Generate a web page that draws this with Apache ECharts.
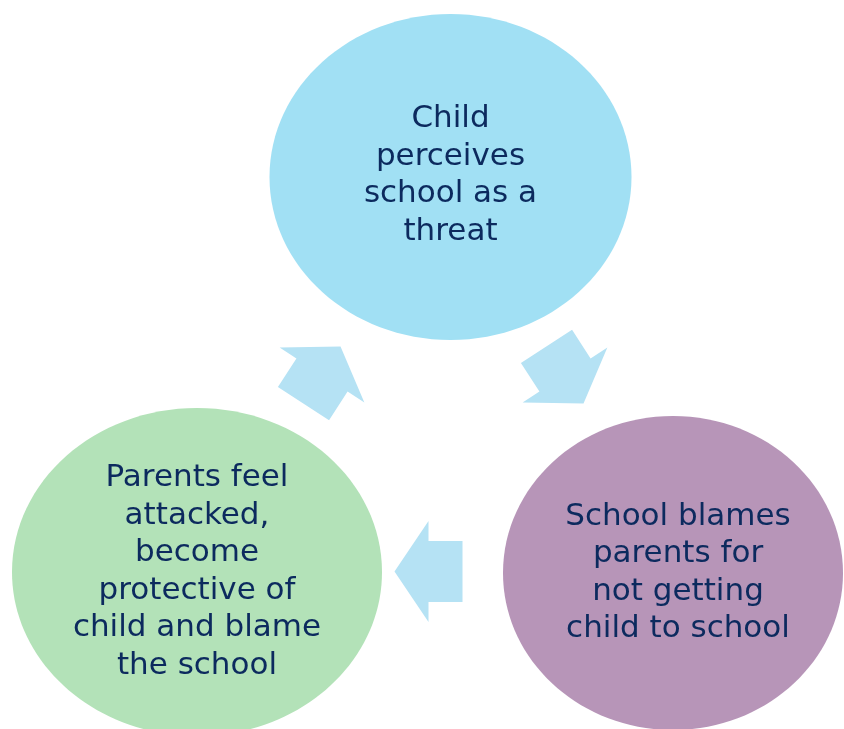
<!DOCTYPE html>
<html>
<head>
<meta charset="utf-8">
<script src="https://cdn.jsdelivr.net/npm/echarts@6/dist/echarts.min.js"></script>
<style>
  html, body { margin: 0; padding: 0; background: #ffffff; }
  #chart { width: 844px; height: 729px; }
</style>
</head>
<body>
<div id="chart"></div>
<script>
// ---- Content ----
const stageLabels = [
  "Child\nperceives\nschool as a\nthreat",
  "School blames\nparents for\nnot getting\nchild to school",
  "Parents feel\nattacked,\nbecome\nprotective of\nchild and blame\nthe school"
];
const stageColors = ["#a1e0f4", "#b795b8", "#b3e2b8"];

// ---- Layout (diagram coordinates, y downward) ----
const stageCenters = [[450.5, 177], [673, 573], [197, 572]];
const stageRadii = [[181, 163], [170, 157], [185, 164]];
const arrowCenters = [[565, 375], [428.5, 571.5], [322, 375]];
const arrowAngles = [57, 180, -57];

const textColor = "#0c2a5e";
const arrowColor = "#b5e2f4";

const chart = echarts.init(document.getElementById('chart'), null, { renderer: 'canvas' });

const stageData = stageCenters.map((c, i) => [c[0], c[1], stageRadii[i][0], stageRadii[i][1], i]);
const arrowData = arrowCenters.map((c, i) => [c[0], c[1], arrowAngles[i], i]);

// Arrow shape in local units (pointing +x)
const arrowShape = [[34, 0], [0, -50.5], [0, -30.5], [-34, -30.5], [-34, 30.5], [0, 30.5], [0, 50.5]];

chart.setOption({
  animation: false,
  backgroundColor: '#ffffff',
  grid: { left: 0, right: 0, top: 0, bottom: 0 },
  xAxis: { type: 'value', min: 0, max: 844, show: false },
  yAxis: { type: 'value', min: 0, max: 729, inverse: true, show: false },
  series: [
    {
      type: 'custom',
      coordinateSystem: 'cartesian2d',
      data: arrowData,
      silent: true,
      renderItem: function (params, api) {
        const c = api.coord([api.value(0), api.value(1)]);
        const ang = api.value(2) * Math.PI / 180;
        const s = api.size([1, 1]);
        const cos = Math.cos(ang), sin = Math.sin(ang);
        const pts = arrowShape.map(p => {
          const px = p[0] * s[0], py = p[1] * s[1];
          return [c[0] + px * cos - py * sin, c[1] + px * sin + py * cos];
        });
        return { type: 'polygon', shape: { points: pts }, style: { fill: arrowColor } };
      }
    },
    {
      type: 'custom',
      coordinateSystem: 'cartesian2d',
      data: stageData,
      silent: true,
      renderItem: function (params, api) {
        const c = api.coord([api.value(0), api.value(1)]);
        const r = api.size([api.value(2), api.value(3)]);
        const idx = api.value(4);
        return {
          type: 'group',
          children: [
            {
              type: 'ellipse',
              shape: { cx: c[0], cy: c[1], rx: r[0], ry: r[1] },
              style: { fill: stageColors[idx] }
            },
            {
              type: 'text',
              style: {
                text: stageLabels[idx],
                x: c[0] + (idx === 1 ? 5 : 0),
                y: c[1] + (idx === 0 ? -1.5 : 0),
                align: 'center',
                verticalAlign: 'middle',
                fontSize: 31,
                fontFamily: 'DejaVu Sans',
                lineHeight: 37.5,
                fill: textColor
              }
            }
          ]
        };
      }
    }
  ]
});
</script>
</body>
</html>
